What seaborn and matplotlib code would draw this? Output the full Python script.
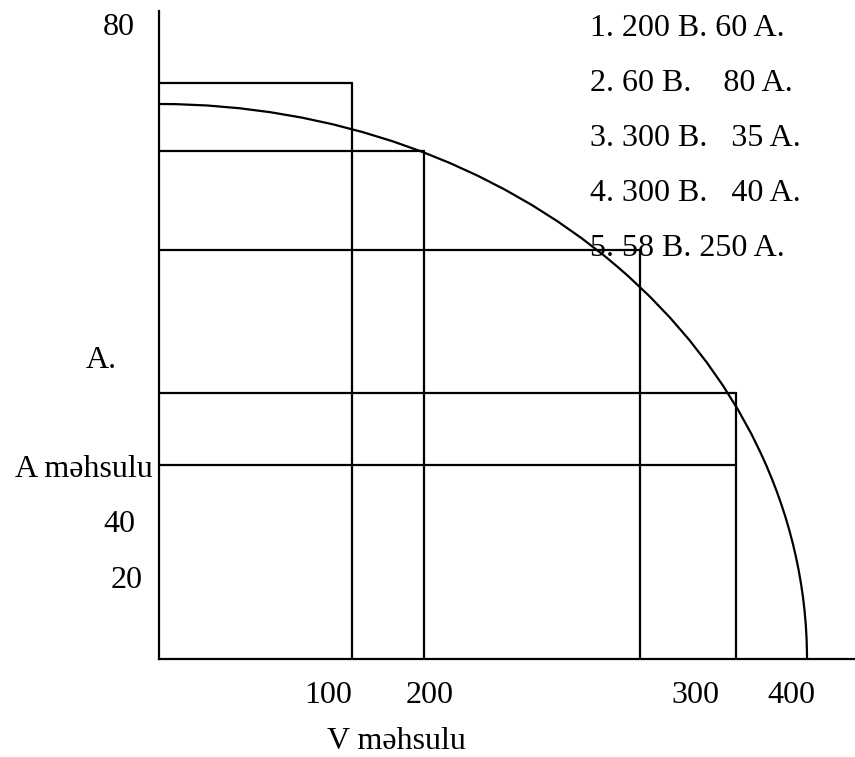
import numpy as np
import pandas as pd
import matplotlib
matplotlib.use("Agg")
import matplotlib.pyplot as plt
from matplotlib.patches import Arc
import seaborn as sns

# ---- data (drawing units; origin at axes corner) ----
combo_v = [193, 265, 481, 577, 577]      # V product amount of each combination
combo_a = [576, 508, 409, 266, 194]      # A product amount of each combination
vertical_idx = [0, 1, 2, 3]              # combinations that have a drop line to V axis
frontier_v_max = 648                     # frontier meets V axis
frontier_a_max = 555                     # frontier meets A axis

x_tick_labels = ["100", "200", "300", "400"]
x_tick_pos = [169, 271, 536, 632]
y_labels = ["80", "A.", "A məhsulu", "40", "20"]
y_label_pos = [(-24, 624), (-42, 291), (-6, 182), (-24, 127), (-16, 71)]
legend_lines = ["1. 200 B. 60 A.", "2. 60 B.    80 A.", "3. 300 B.   35 A.",
                "4. 300 B.   40 A.", "5. 58 B. 250 A."]
legend_y = [623, 568, 513, 458, 403]
x_title = "V məhsulu"

# ---- build segments table ----
rows = []
seg = 0
for v, a in zip(combo_v, combo_a):
    rows += [dict(seg=seg, x=0, y=a), dict(seg=seg, x=v, y=a)]
    seg += 1
for i in vertical_idx:
    rows += [dict(seg=seg, x=combo_v[i], y=0), dict(seg=seg, x=combo_v[i], y=combo_a[i])]
    seg += 1
df = pd.DataFrame(rows)

sns.set_theme(style="white")
plt.rcParams['font.family'] = ['Liberation Serif', 'DejaVu Serif']

W, H = 855, 757
fig = plt.figure(figsize=(W / 100, H / 100), dpi=100)
ox, oy = 159, 659
ax = fig.add_axes([ox / W, (H - oy) / H, (W - ox) / W, (oy - 11) / H])
ax.set_xlim(0, W - ox)
ax.set_ylim(0, oy - 11)

LW = 1.6
sns.lineplot(data=df, x="x", y="y", units="seg", estimator=None, sort=False,
             color="black", linewidth=LW, ax=ax, legend=False)

ax.add_patch(Arc((0, 0), 2 * frontier_v_max, 2 * frontier_a_max, theta1=0, theta2=90,
                 color="black", linewidth=LW))

for s in ["top", "right"]:
    ax.spines[s].set_visible(False)
for s in ["left", "bottom"]:
    ax.spines[s].set_color("black")
    ax.spines[s].set_linewidth(LW)
ax.set_xticks([])
ax.set_yticks([])
ax.set_xlabel("")
ax.set_ylabel("")

FS = 23
for lab, (x, y) in zip(y_labels, y_label_pos):
    ax.text(x, y, lab, ha="right", va="baseline", fontsize=FS, color="black", clip_on=False)
for lab, x in zip(x_tick_labels, x_tick_pos):
    ax.text(x, -44, lab, ha="center", va="baseline", fontsize=FS, color="black", clip_on=False)
ax.text(168, -90, x_title, ha="left", va="baseline", fontsize=FS, color="black", clip_on=False)
for lab, y in zip(legend_lines, legend_y):
    ax.text(431, y, lab, ha="left", va="baseline", fontsize=FS, color="black", clip_on=False)

fig.savefig("out.png", dpi=100)
